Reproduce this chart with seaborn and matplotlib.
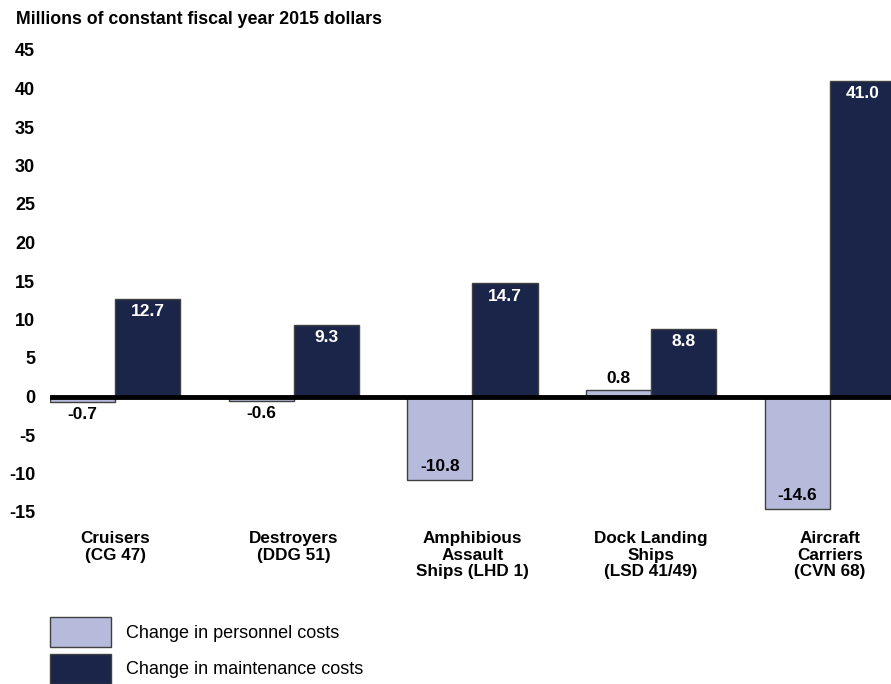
import pandas as pd
import seaborn as sns
import matplotlib.pyplot as plt

# Changes in annual costs per ship class
ships = ['Cruisers\n(CG 47)', 'Destroyers\n(DDG 51)', 'Amphibious\nAssault\nShips (LHD 1)',
         'Dock Landing\nShips\n(LSD 41/49)', 'Aircraft\nCarriers\n(CVN 68)']
personnel = [-0.7, -0.6, -10.8, 0.8, -14.6]
maintenance = [12.7, 9.3, 14.7, 8.8, 41.0]
series = ['Change in personnel costs', 'Change in maintenance costs']
colors = ['#b7bbdb', '#1a2549']

df = pd.DataFrame({
    'ship': ships * 2,
    'value': personnel + maintenance,
    'series': [series[0]] * len(ships) + [series[1]] * len(ships),
})

sns.set_style('white')
plt.rcParams['font.family'] = ['Liberation Sans', 'DejaVu Sans']
plt.rcParams['axes.unicode_minus'] = False
plt.rcParams['text.color'] = 'black'
plt.rcParams['xtick.color'] = 'black'
plt.rcParams['ytick.color'] = 'black'

fig = plt.figure(figsize=(8.91, 6.84), dpi=100)
ax = fig.add_axes([50 / 891, 1 - 512 / 684, 1 - 50 / 891, (512 - 50) / 684])

sns.barplot(data=df, x='ship', y='value', hue='series', palette=colors, width=0.73,
            gap=0, saturation=1, edgecolor='#404040', linewidth=1, ax=ax)

ax.set_xlim(-0.364, 4.342)
ax.set_ylim(-15, 45)
ax.set_yticks(range(-15, 50, 5))
ax.axhline(0, color='black', lw=3.5, zorder=5)
sns.despine(ax=ax, left=True, bottom=True)
ax.set_xlabel('')
ax.set_ylabel('')
ax.tick_params(axis='y', length=0, pad=10.8, labelsize=13)
ax.tick_params(axis='x', length=0, pad=14, labelsize=12.3)
for lbl in ax.get_yticklabels() + ax.get_xticklabels():
    lbl.set_fontweight('bold')
for lbl in ax.get_xticklabels():
    lbl.set_linespacing(1.12)

# value labels
for cont, vals in zip(ax.containers, [personnel, maintenance]):
    for bar, v in zip(cont, vals):
        x = bar.get_x() + bar.get_width() / 2
        if abs(v) < 1.5:
            y = v - 0.6 if v < 0 else v + 0.6
            va = 'top' if v < 0 else 'bottom'
            c = 'black'
        else:
            y = v - 1.7 if v > 0 else v + 1.7
            va = 'center'
            c = 'white' if v > 0 else 'black'
        ax.text(x, y, f'{v:.1f}', ha='center', va=va, color=c, fontsize=12.5,
                fontweight='bold', zorder=6)

fig.text(16 / 891, 1 - 20 / 684, 'Millions of constant fiscal year 2015 dollars',
         fontsize=12.8, fontweight='bold', va='center')

handles, labels = ax.get_legend_handles_labels()
ax.legend(handles, labels, loc='upper left', bbox_to_anchor=(50 / 891, 1 - 617 / 684),
          bbox_transform=fig.transFigure, frameon=False, handlelength=3.4,
          handleheight=2.2, handletextpad=0.8, labelspacing=0.35, fontsize=13,
          borderpad=0, borderaxespad=0)

fig.savefig('out.png', dpi=100)
